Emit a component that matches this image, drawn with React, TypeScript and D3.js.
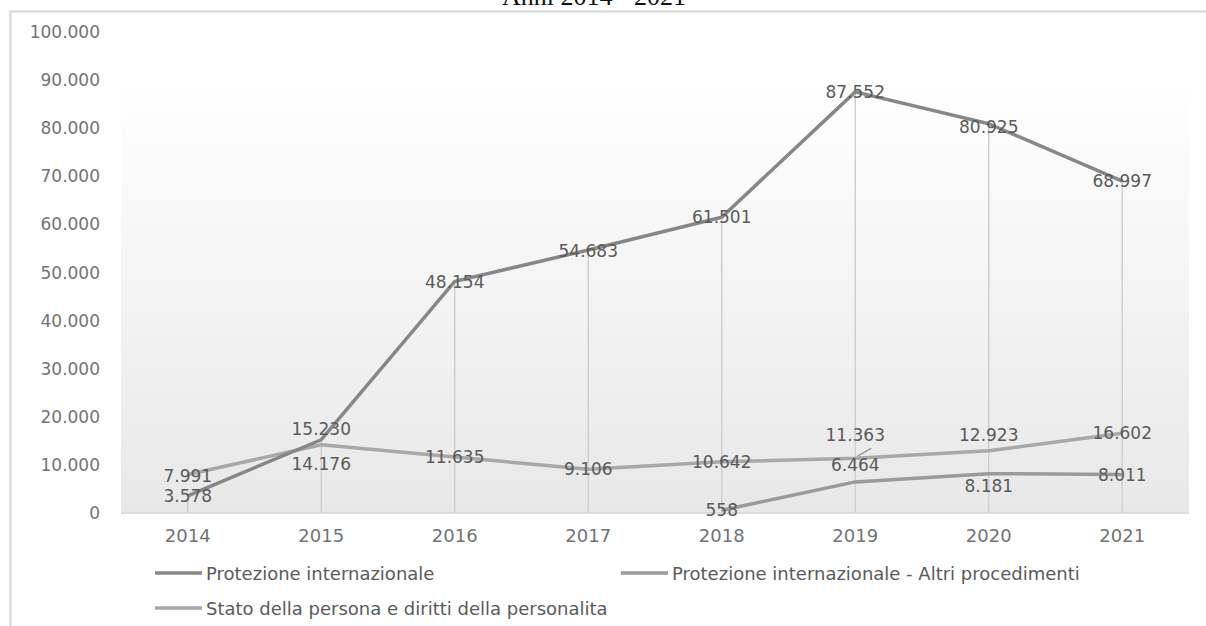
import React from "react";
import * as d3 from "d3";

const years = ["2014", "2015", "2016", "2017", "2018", "2019", "2020", "2021"];
const protezione = [3578, 15230, 48154, 54683, 61501, 87552, 80925, 68997];
const altri: (number | null)[] = [null, null, null, null, 558, 6464, 8181, 8011];
const stato = [7991, 14176, 11635, 9106, 10642, 11363, 12923, 16602];
const yTicks = [0, 10000, 20000, 30000, 40000, 50000, 60000, 70000, 80000, 90000, 100000];
const seriesNames = [
  "Protezione internazionale",
  "Protezione internazionale - Altri procedimenti",
  "Stato della persona e diritti della personalita",
];
// label vertical nudges (px) as placed in the original
const nudgeProt = [0, -11, 1, 1, 0, 0, 3, 0];
const nudgeAltri = [0, 0, 0, 0, 0, -17, 12, 1];
const nudgeStato = [1, 19, 0, 0, 0, -23, -16, 0];

const W = 1206;
const H = 626;
const PL = 121;
const PR = 1189;
const PB = 513;
const PT = 32;
const colProt = "#878787";
const colAltri = "#9a9a9a";
const colStato = "#a8a8a8";
const labelCol = "#5a5a5a";
const tickCol = "#737373";
const FONT = "'DejaVu Sans', sans-serif";

const fmt = (v: number) => d3.format(",")(v).replace(/,/g, ".");

export default function App() {
  const x = d3.scaleBand<string>().domain(years).range([PL, PR]);
  const cx = (i: number) => (x(years[i]) as number) + x.bandwidth() / 2;
  const y = d3.scaleLinear().domain([0, 100000]).range([PB, PT]);

  const line = d3
    .line<number | null>()
    .defined((d) => d !== null)
    .x((_, i) => cx(i))
    .y((d) => y(d as number));

  const labels = (vals: (number | null)[], nudge: number[]) =>
    vals.map((v, i) =>
      v === null ? null : (
        <text
          key={i}
          x={cx(i)}
          y={y(v) + nudge[i]}
          textAnchor="middle"
          dominantBaseline="central"
          fontSize={17}
          fill={labelCol}
        >
          {fmt(v)}
        </text>
      )
    );

  const i19 = years.indexOf("2019");

  return (
    <div style={{ position: "absolute", left: 0, top: 0 }}>
      <svg width={W} height={H} style={{ display: "block", fontFamily: FONT }}>
        <defs>
          <linearGradient id="bg" x1="0" y1="0" x2="0" y2="1">
            <stop offset="0" stopColor="#ffffff" />
            <stop offset="1" stopColor="#e8e8e8" />
          </linearGradient>
        </defs>
        <rect x={0} y={0} width={W} height={H} fill="#fff" />
        <text
          x={594}
          y={5}
          textAnchor="middle"
          fontFamily="'Liberation Serif', 'Times New Roman', serif"
          fontSize={26}
          fill="#111"
        >
          Anni 2014 - 2021
        </text>
        {/* outer chart border */}
        <path d={`M10.5,${H} V11.5 H${W}`} fill="none" stroke="#d6d6d6" strokeWidth={2} />
        {/* plot background */}
        <rect x={PL} y={85} width={PR - PL} height={PB - 85} fill="url(#bg)" />
        {/* drop lines */}
        {protezione.map((v, i) => (
          <line key={i} x1={cx(i)} x2={cx(i)} y1={y(v)} y2={PB} stroke="#cfcfcf" strokeWidth={1.5} />
        ))}
        {/* axis */}
        <line x1={PL} x2={PR} y1={PB} y2={PB} stroke="#d4d4d4" strokeWidth={1.5} />
        {yTicks.map((t) => (
          <text
            key={t}
            x={100}
            y={y(t)}
            textAnchor="end"
            dominantBaseline="central"
            fontSize={17}
            fill={tickCol}
          >
            {fmt(t)}
          </text>
        ))}
        {years.map((yr, i) => (
          <text
            key={yr}
            x={cx(i)}
            y={535}
            textAnchor="middle"
            dominantBaseline="central"
            fontSize={18}
            fill={tickCol}
          >
            {yr}
          </text>
        ))}
        {/* lines */}
        <path d={line(stato) || ""} fill="none" stroke={colStato} strokeWidth={3.5} strokeLinejoin="round" />
        <path d={line(altri) || ""} fill="none" stroke={colAltri} strokeWidth={3.5} strokeLinejoin="round" />
        <path d={line(protezione) || ""} fill="none" stroke={colProt} strokeWidth={3.5} strokeLinejoin="round" />
        {/* leader line for 2019 Stato label */}
        <line
          x1={cx(i19) + 2}
          y1={y(stato[i19]) - 2}
          x2={cx(i19) + 16}
          y2={y(stato[i19]) - 10}
          stroke="#8a8a8a"
          strokeWidth={1.2}
        />
        <g>{labels(protezione, nudgeProt)}</g>
        <g>{labels(stato, nudgeStato)}</g>
        <g>{labels(altri, nudgeAltri)}</g>
        {/* legend */}
        {[
          { name: seriesNames[0], col: colProt, lx: 155, ly: 573 },
          { name: seriesNames[1], col: colAltri, lx: 621, ly: 573 },
          { name: seriesNames[2], col: colStato, lx: 155, ly: 608 },
        ].map((l) => (
          <g key={l.name}>
            <line x1={l.lx} x2={l.lx + 47} y1={l.ly} y2={l.ly} stroke={l.col} strokeWidth={3.5} />
            <text x={l.lx + 51} y={l.ly} dominantBaseline="central" fontSize={18} fill={labelCol}>
              {l.name}
            </text>
          </g>
        ))}
      </svg>
    </div>
  );
}
